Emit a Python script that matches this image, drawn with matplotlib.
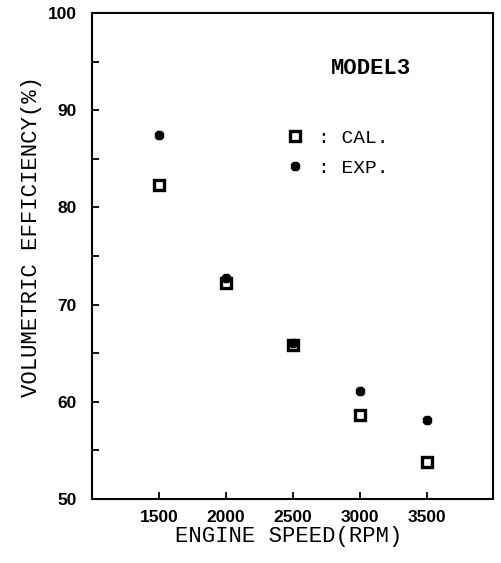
import matplotlib
matplotlib.use('Agg')
import matplotlib.pyplot as plt
from matplotlib.ticker import MultipleLocator

# values
speed_rpm = [1500, 2000, 2500, 3000, 3500]
eff_cal = [82.3, 72.2, 65.8, 58.6, 53.8]
eff_exp = [87.5, 72.7, 66.1, 61.1, 58.1]

x_ticks = [1500, 2000, 2500, 3000, 3500]
y_ticks = [50, 60, 70, 80, 90, 100]

mono = 'Liberation Mono'

fig = plt.figure(figsize=(5.02, 5.63), dpi=100)
ax = fig.add_axes([0.1833, 0.1137, 0.799, 0.863])

cal_line, = ax.plot(speed_rpm, eff_cal, linestyle='none', marker='s',
                    markersize=6.5, markerfacecolor='white',
                    markeredgecolor='black', markeredgewidth=2.4)
exp_line, = ax.plot(speed_rpm, eff_exp, linestyle='none', marker='8',
                    markersize=7, color='black')

ax.set_xlim(1000, 3990)
ax.set_ylim(50, 100)
ax.set_xticks(x_ticks)
ax.set_yticks(y_ticks)
ax.yaxis.set_minor_locator(MultipleLocator(5))

for s in ax.spines.values():
    s.set_linewidth(1.5)

ax.tick_params(axis='both', which='both', direction='in', length=5, width=1.3,
               top=False, right=False)
ax.tick_params(axis='y', which='major', pad=11)
ax.tick_params(axis='x', which='major', pad=8)
for lab in ax.get_xticklabels() + ax.get_yticklabels():
    lab.set_fontfamily('Liberation Sans')
    lab.set_fontweight('bold')
    lab.set_fontsize(12.5)

ax.set_xlabel('ENGINE SPEED(RPM)', fontfamily=mono, fontsize=16)
ax.xaxis.set_label_coords(0.49, -0.055)
ax.xaxis.label.set_va('top')
ax.set_ylabel('VOLUMETRIC EFFICIENCY(%)', fontfamily=mono, fontsize=16)
ax.yaxis.set_label_coords(-0.15, 0.541)
ax.yaxis.label.set_va('center')

ax.text(0.596, 0.887, 'MODEL3', transform=ax.transAxes, fontfamily=mono,
        fontsize=16, fontweight='bold', ha='left', va='center')

ax.legend([cal_line, exp_line], [': CAL.', ': EXP.'], loc='upper left',
          bbox_to_anchor=(0.481, 0.761), frameon=False, numpoints=1,
          handlelength=1.0, handletextpad=0.7, labelspacing=0.65,
          borderpad=0, borderaxespad=0,
          prop={'family': mono, 'size': 14})

fig.savefig('out.png', dpi=100)
